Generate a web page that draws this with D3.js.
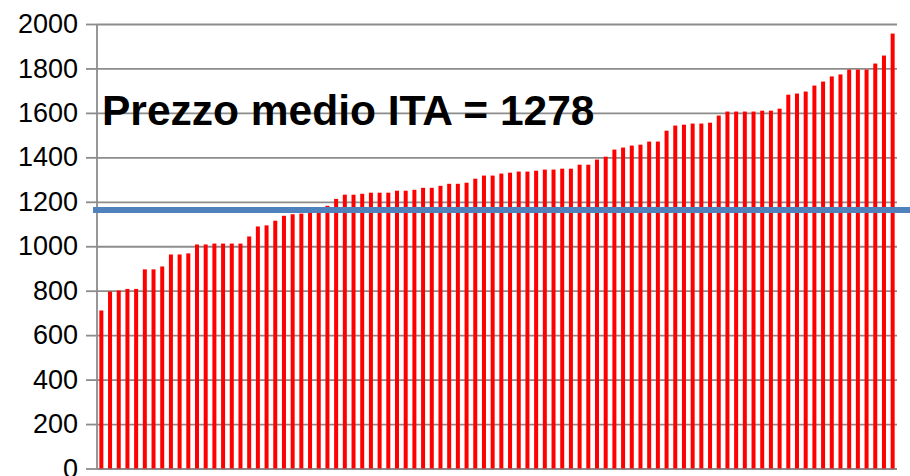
<!DOCTYPE html>
<html lang="en">
<head>
	<meta charset="utf-8">
	<title>Prezzo medio ITA</title>
	<style type="text/css">
		body {
			margin: 0;
			background: #fff;
		}
		.axis text {
			font-family: "Liberation Sans", Arial, sans-serif;
			font-size: 27px;
			fill: #000;
		}
		.axis line {
			stroke: #8c8c8c;
			stroke-width: 1.8;
		}
	</style>
</head>
<body>
	<div id="vis"></div>

	<script src="https://cdn.jsdelivr.net/npm/d3@7"></script>
	<script type="text/javascript">

		var w = 910;
		var h = 476;

		// values, already sorted
		var prices = [ 711, 796, 801, 808, 808, 896, 896, 909, 963, 963,
					   968, 1008, 1008, 1012, 1012, 1012, 1012, 1044, 1089, 1094,
					   1115, 1137, 1144, 1147, 1155, 1165, 1182, 1213, 1232, 1232,
					   1236, 1241, 1241, 1241, 1250, 1250, 1254, 1263, 1263, 1272,
					   1281, 1281, 1286, 1304, 1318, 1318, 1327, 1331, 1336, 1336,
					   1340, 1345, 1345, 1349, 1349, 1367, 1367, 1390, 1403, 1435,
					   1444, 1453, 1457, 1471, 1471, 1520, 1543, 1547, 1552, 1552,
					   1556, 1588, 1606, 1606, 1606, 1606, 1610, 1610, 1619, 1682,
					   1687, 1696, 1723, 1741, 1764, 1773, 1795, 1795, 1795, 1822,
					   1858, 1957 ];
		var categories = d3.range(1, prices.length + 1);
		var yTicks = [0, 200, 400, 600, 800, 1000, 1200, 1400, 1600, 1800, 2000];
		var meanLine = 1163;
		var label = "Prezzo medio ITA = 1278";

		var padLeft = 97, padRight = 897, padTop = 24, padBottom = 468.5;

		var xScale = d3.scaleBand()
						.domain(categories)
						.range([padLeft, padRight])
						.paddingInner(0.54)
						.paddingOuter(0.27);

		var yScale = d3.scaleLinear()
						.domain([0, 2000])
						.range([padBottom, padTop]);

		var svg = d3.select("#vis")
					.append("svg")
					.attr("width", w)
					.attr("height", h);

		//Gridlines
		svg.append("g")
			.attr("class", "axis")
			.attr("transform", "translate(" + padLeft + ",0)")
			.call(d3.axisLeft(yScale).tickValues(yTicks).tickSize(-(padRight - padLeft)).tickFormat(""))
			.call(function(g) { g.select(".domain").remove(); });

		//Y axis with labels
		svg.append("g")
			.attr("class", "axis")
			.attr("transform", "translate(" + padLeft + ",0)")
			.call(d3.axisLeft(yScale).tickValues(yTicks).tickSize(11).tickPadding(8).tickFormat(d3.format("d")))
			.call(function(g) { g.select(".domain").remove(); });

		svg.append("line")
			.attr("x1", padLeft).attr("x2", padLeft)
			.attr("y1", yScale(2000)).attr("y2", yScale(0))
			.attr("stroke", "#8c8c8c")
			.attr("stroke-width", 1.8);

		//Bars
		svg.selectAll("rect.bar")
			.data(prices)
			.enter()
			.append("rect")
			.attr("class", "bar")
			.attr("x", function(d, i) { return xScale(categories[i]); })
			.attr("y", function(d) { return yScale(d); })
			.attr("width", xScale.bandwidth())
			.attr("height", function(d) { return yScale(0) - yScale(d); })
			.attr("fill", "#ff0000");

		//Mean line
		svg.append("line")
			.attr("x1", padLeft - 4)
			.attr("x2", w)
			.attr("y1", yScale(meanLine))
			.attr("y2", yScale(meanLine))
			.attr("stroke", "#4f81bd")
			.attr("stroke-width", 6);

		//Label
		svg.append("text")
			.attr("x", 102)
			.attr("y", 125)
			.attr("font-family", "'Liberation Sans', Arial, sans-serif")
			.attr("font-weight", "bold")
			.attr("font-size", "42.5px")
			.attr("fill", "#000")
			.text(label);

	</script>
</body>
</html>
